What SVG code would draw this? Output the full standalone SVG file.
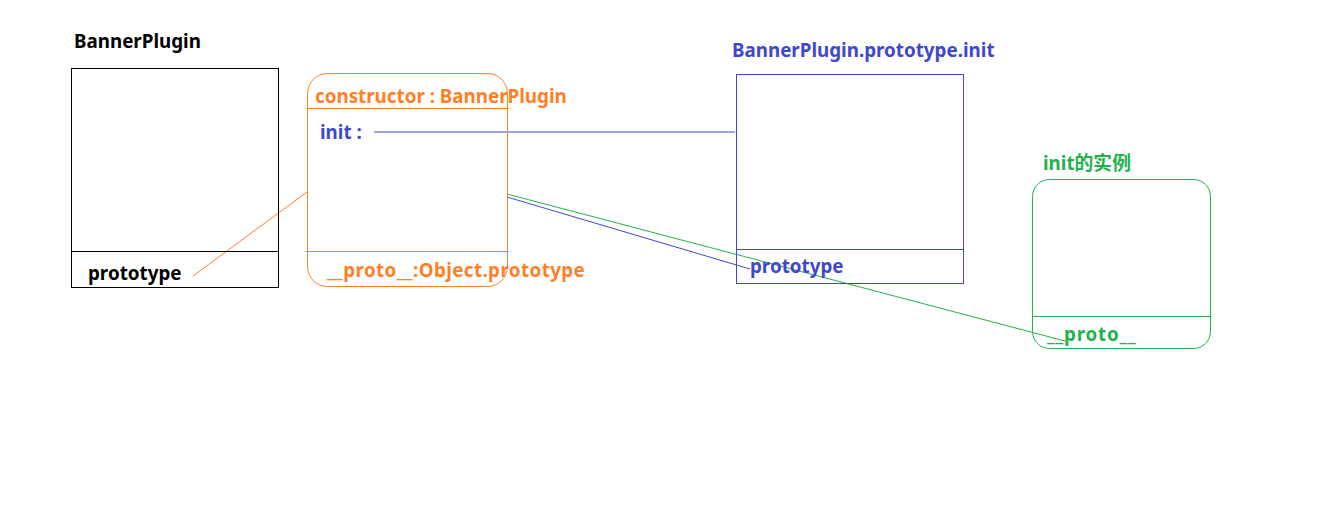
<svg xmlns="http://www.w3.org/2000/svg" width="1336" height="532" viewBox="0 0 1336 532">
<style>
text{font-family:"Noto Sans","Noto Sans CJK SC",sans-serif;font-weight:bold;font-size:18.8px}
.k{fill:#000}.o{fill:#FF7F27}.b{fill:#3F48CC}.g{fill:#22B14C}
.box{fill:none;stroke-width:1}
</style>
<rect width="1336" height="532" fill="#fff"/>
<g id="connectors" fill="none" stroke-width="1">
<line x1="193" y1="276" x2="307" y2="192" stroke="#FF7F27"/>
<line x1="374" y1="132" x2="735" y2="132" stroke="#3F48CC"/>
<line x1="507" y1="197" x2="750" y2="269" stroke="#3F48CC"/>
<line x1="507" y1="194" x2="1065" y2="341" stroke="#22B14C"/>
</g>
<g id="bannerPlugin">
<text class="k" x="74" y="48">BannerPlugin</text>
<rect class="box" x="71.5" y="68.5" width="207" height="219" stroke="#000"/>
<line x1="71" y1="251.5" x2="278" y2="251.5" stroke="#000"/>
<text class="k" x="88" y="280">prototype</text>
</g>
<g id="prototypeObj">
<rect class="box" x="307.5" y="73.5" width="200" height="213" rx="20" stroke="#FF7F27"/>
<line x1="307" y1="108.5" x2="507" y2="108.5" stroke="#FF7F27"/>
<line x1="306" y1="251.5" x2="508" y2="251.5" stroke="#FF7F27"/>
<text class="o" x="315" y="103">constructor : BannerPlugin</text>
<text class="b" x="320" y="139">init :</text>
<text class="o" x="327" y="277" letter-spacing="0.4">__proto__:Object.prototype</text>
</g>
<g id="initFn">
<text class="b" x="732" y="57">BannerPlugin.prototype.init</text>
<rect class="box" x="736.5" y="74.5" width="227" height="209" stroke="#3F48CC"/>
<line x1="736" y1="249.5" x2="963" y2="249.5" stroke="#3F48CC"/>
<text class="b" x="750" y="273">prototype</text>
</g>
<g id="initInstance">
<text class="g" x="1043" y="170">init的实例</text>
<rect class="box" x="1032.5" y="179.5" width="178" height="169" rx="17" stroke="#22B14C"/>
<line x1="1033" y1="316.5" x2="1210" y2="316.5" stroke="#22B14C"/>
<text class="g" x="1047" y="341" letter-spacing="0.8">__proto__</text>
</g>
</svg>
